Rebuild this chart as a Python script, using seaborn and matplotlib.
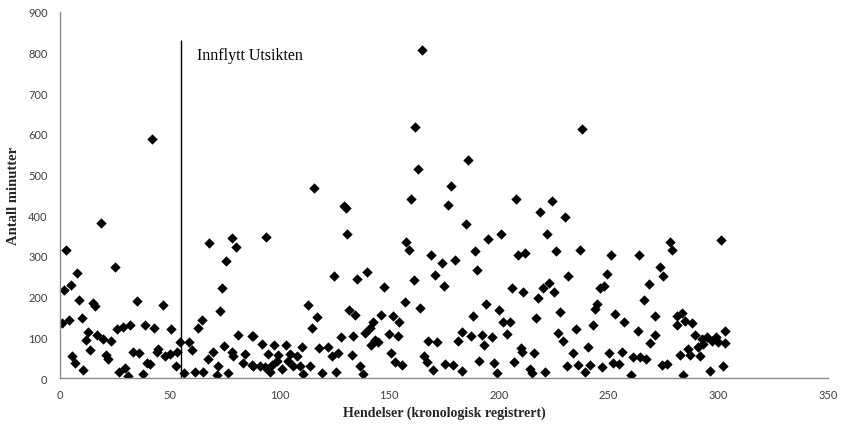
import matplotlib
matplotlib.use("Agg")
import matplotlib.pyplot as plt
import seaborn as sns
import pandas as pd

# hendelsesnummer (x) og antall minutter (y), lest av figuren
hendelse = [
    41.9, 18.7, 115.8, 129.4, 130.2, 165.0, 161.9, 238.0, 186.0, 163.0, 178.0, 160.0, 208.0, 177.0, 224.0, 218.8, 230.0, 185.0,
    2.7, 7.9, 4.9, 1.8, 25.1, 8.8, 14.9, 16.0, 35.0, 0.9, 3.9, 9.9, 12.9, 11.9, 17.0, 19.8, 23.2, 25.8, 28.9, 32.0, 38.9,
    13.7, 5.6, 6.7, 10.6, 21.0, 22.0, 27.0, 29.6, 31.0, 33.1, 35.9, 37.7, 39.5,
    68.1, 78.2, 80.1, 75.7, 74.0, 73.1, 47.1, 64.9, 62.7, 43.0, 50.6, 80.9, 87.7, 54.7, 59.0, 60.0, 44.8, 44.2, 47.9, 50.1,
    53.2, 41.0, 53.0, 56.7, 61.5, 65.3, 71.4, 76.7, 74.9, 69.9, 67.6, 78.3, 79.0, 72.0, 84.3, 83.6, 87.4,
    93.9, 131.0, 125.0, 135.5, 112.9, 117.0, 131.9, 134.6, 114.9, 88.1, 91.9, 97.5, 103.0, 110.2, 128.0, 133.7, 118.2, 122.3,
    126.9, 123.8, 133.0, 95.0, 99.5, 104.8, 107.9, 98.8, 104.1, 88.1, 91.2, 96.5, 101.0, 106.3, 109.4, 114.0, 95.7, 110.9,
    119.3, 125.8, 93.4,
    157.7, 159.1, 169.1, 174.0, 180.0, 170.9, 175.2, 139.8, 147.8, 161.1, 157.0, 164.1, 146.3, 151.9, 154.7, 142.8, 141.3,
    139.0, 149.7, 153.9, 143.6, 141.8, 144.8, 150.9, 152.7, 156.0, 167.6, 171.7, 181.3, 183.4, 166.1, 167.1, 170.2, 175.5,
    179.3, 183.1, 136.7, 138.3,
    195.2, 201.0, 221.8, 189.2, 208.9, 211.9, 226.1, 189.9, 205.9, 210.9, 220.0, 223.0, 225.2, 218.0, 194.2, 199.9, 188.1,
    216.9, 227.9, 202.1, 205.1, 187.2, 192.2, 196.7, 203.6, 193.0, 227.1, 229.1, 210.1, 210.7, 216.0, 191.1, 198.0, 206.9,
    199.0, 214.2, 214.9, 221.0, 231.2, 231.7,
    237.0, 251.1, 263.9, 278.0, 279.1, 249.2, 246.1, 248.1, 273.2, 275.0, 268.2, 266.1, 244.9, 243.9, 253.0, 257.2, 243.1,
    235.0, 263.2, 271.2, 271.0, 269.0, 281.1, 283.4, 281.0, 284.9, 287.9, 289.4, 292.5, 294.8, 297.1, 290.9, 293.2, 286.4,
    287.1, 291.7, 282.6, 240.8, 234.0, 250.2, 255.9, 261.3, 264.3, 266.9, 236.2, 241.6, 239.3, 247.2, 252.2, 254.8, 274.2,
    276.5, 260.2, 284.1, 296.1,
    301.0, 303.0, 300.0, 302.0, 299.0, 303.0,
]
minutter = [
    587, 382, 466, 422, 418, 807, 617, 612, 536, 513, 472, 441, 441, 426, 436, 407, 396, 378,
    315, 257, 229, 216, 272, 192, 184, 178, 188, 134, 142, 147, 112, 93, 106, 96, 90, 120, 126, 130, 129,
    70, 53, 37, 20, 57, 47, 14, 25, 6, 63, 61, 11, 37,
    332, 343, 321, 287, 221, 165, 180, 143, 122, 122, 120, 106, 102, 88, 88, 69, 71, 63, 55, 59,
    63, 34, 29, 12, 14, 14, 7, 12, 78, 63, 47, 63, 53, 29, 59, 38, 32,
    346, 354, 251, 243, 180, 151, 168, 156, 122, 102, 84, 81, 81, 75, 100, 102, 73, 75,
    61, 53, 57, 59, 57, 59, 55, 43, 43, 30, 30, 32, 22, 30, 30, 30, 14, 10,
    12, 14, 26,
    333, 315, 302, 282, 290, 253, 225, 261, 223, 241, 186, 172, 155, 152, 137, 137, 124,
    111, 108, 102, 94, 81, 88, 61, 40, 33, 92, 88, 92, 112, 53, 40, 20, 34,
    33, 18, 30, 10,
    342, 354, 354, 311, 302, 307, 313, 266, 221, 212, 221, 233, 212, 197, 182, 168, 152,
    147, 161, 137, 137, 102, 106, 100, 108, 81, 111, 92, 73, 63, 61, 43, 37, 40,
    12, 22, 12, 14, 30, 251,
    315, 302, 302, 333, 315, 256, 221, 227, 272, 251, 231, 192, 182, 170, 157, 137, 130,
    120, 116, 152, 106, 86, 153, 159, 130, 141, 135, 106, 96, 100, 92, 75, 84, 71,
    57, 53, 57, 75, 61, 61, 65, 51, 51, 47, 32, 32, 14, 26, 37, 34, 32,
    34, 7, 7, 16,
    340, 115, 88, 30, 100, 85,
]

innflytt_hendelse = 55
innflytt_topp = 830
innflytt_tekst = "Innflytt Utsikten"

df = pd.DataFrame({"hendelse": hendelse, "minutter": minutter})

sns.set_theme(style="white")
plt.rcParams["font.family"] = ["Liberation Serif", "DejaVu Serif"]

fig = plt.figure(figsize=(8.42, 4.27), dpi=100)
ax = fig.add_axes([0.0713, 0.1124, 0.9121, 0.8579])

sns.scatterplot(data=df, x="hendelse", y="minutter", marker="D", color="black",
                s=28, linewidth=0, ax=ax, legend=False)

# flyttelinje
ax.vlines(innflytt_hendelse, 0, innflytt_topp, color="black", linewidth=1.0)
ax.text(innflytt_hendelse + 7.5, innflytt_topp - 36, innflytt_tekst, fontsize=11.5,
        ha="left", va="center", color="black")

ax.set_xlim(0, 350)
ax.set_ylim(0, 900)
ax.set_xticks(range(0, 351, 50))
ax.set_yticks(range(0, 901, 100))

for side in ["top", "right"]:
    ax.spines[side].set_visible(False)
for side in ["left", "bottom"]:
    ax.spines[side].set_color("#8c8c8c")
    ax.spines[side].set_linewidth(1.0)

ax.tick_params(axis="both", length=0, labelsize=8, labelcolor="#404040")
ax.tick_params(axis="y", pad=9)
ax.tick_params(axis="x", pad=8)
for lab in ax.get_xticklabels() + ax.get_yticklabels():
    lab.set_family(["Lato", "DejaVu Sans"])

ax.set_xlabel("Hendelser (kronologisk registrert)", fontsize=10, fontweight="bold", labelpad=4)
ax.set_ylabel("Antall minutter", fontsize=10.5, fontweight="bold", labelpad=6)

fig.savefig("out.png", dpi=100)
